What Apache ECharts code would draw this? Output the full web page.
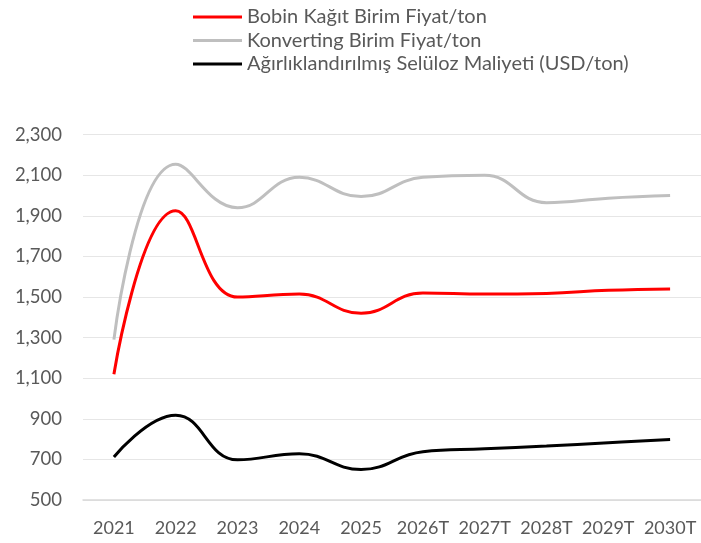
<!DOCTYPE html>
<html>
<head>
<meta charset="utf-8">
<script src="https://cdn.jsdelivr.net/npm/echarts@6/dist/echarts.min.js"></script>
<style>html,body{margin:0;padding:0;background:#fff}#c{width:701px;height:543px}</style>
</head>
<body>
<div id="c"></div>
<script>
const categories = ['2021','2022','2023','2024','2025','2026T','2027T','2028T','2029T','2030T'];
const bobin = [1120, 1925, 1500, 1515, 1420, 1520, 1515, 1518, 1533, 1540];
const konverting = [1290, 2155, 1940, 2090, 1995, 2090, 2100, 1965, 1987, 2000];
const seluloz = [712, 918, 698, 728, 650, 738, 752, 766, 782, 798];
const seriesNames = ['Bobin Kağıt Birim Fiyat/ton', 'Konverting Birim Fiyat/ton', 'Ağırlıklandırılmış Selüloz Maliyeti (USD/ton)'];
const colors = ['#ff0000', '#bfbfbf', '#000000'];

const chart = echarts.init(document.getElementById('c'));
const font = 'Lato, "Open Sans", sans-serif';
chart.setOption({
  animation: false,
  backgroundColor: '#fff',
  color: colors,
  legend: {
    orient: 'vertical',
    left: 193,
    top: 5.5,
    padding: 0,
    icon: 'rect',
    itemWidth: 49,
    itemHeight: 3,
    itemGap: 0.5,
    textStyle: { fontFamily: font, fontSize: 20, color: '#595959', lineHeight: 23 },
    data: seriesNames
  },
  grid: { left: 83, top: 134.7, width: 622, height: 365.3, containLabel: false },
  xAxis: {
    type: 'category',
    data: categories,
    boundaryGap: true,
    axisLine: { lineStyle: { color: '#d9d9d9', width: 1.5 } },
    axisTick: { show: false },
    axisLabel: { interval: 0, hideOverlap: false, fontFamily: font, fontSize: 18, color: '#595959', margin: 19 }
  },
  yAxis: {
    type: 'value',
    min: 500, max: 2300, interval: 200,
    axisLine: { show: false },
    axisTick: { show: false },
    splitLine: { lineStyle: { color: '#e6e6e6', width: 1 } },
    axisLabel: { fontFamily: font, fontSize: 18.5, color: '#595959', margin: 21,
      formatter: v => v.toLocaleString('en-US') }
  },
  series: [
    { name: seriesNames[0], type: 'line', data: bobin, smooth: 0.45, showSymbol: false, symbol: 'none', lineStyle: { width: 3, color: colors[0] } },
    { name: seriesNames[1], type: 'line', data: konverting, smooth: 0.45, showSymbol: false, symbol: 'none', lineStyle: { width: 3, color: colors[1] } },
    { name: seriesNames[2], type: 'line', data: seluloz, smooth: 0.45, showSymbol: false, symbol: 'none', lineStyle: { width: 3, color: colors[2] } }
  ]
});
</script>
</body>
</html>
